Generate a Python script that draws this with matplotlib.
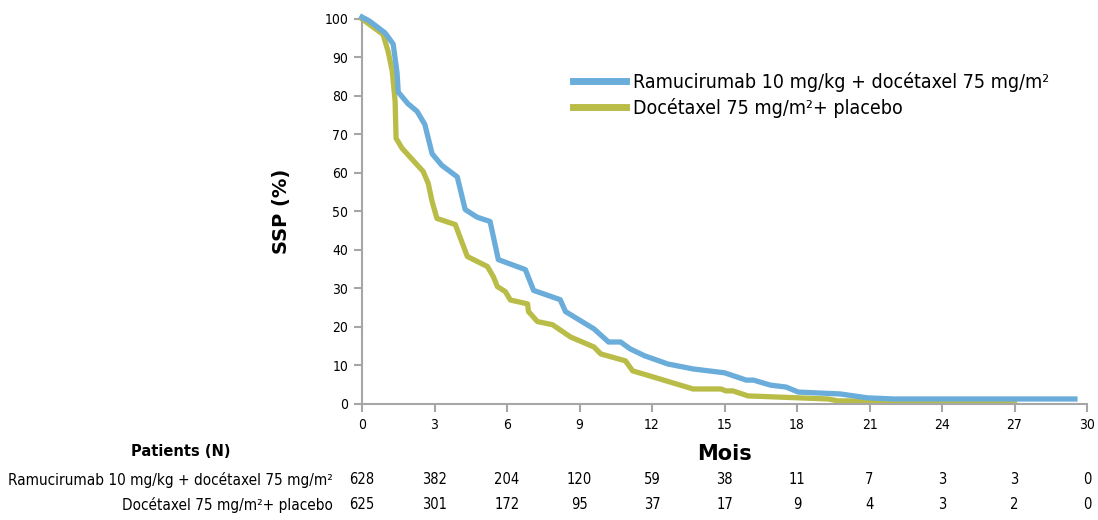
import numpy as np
import matplotlib
matplotlib.use("Agg")
import matplotlib.pyplot as plt
from matplotlib import transforms

# DejaVu Sans Condensed for most text, plain DejaVu Sans for the bold titles
plt.rcParams['font.family'] = ['DejaVu Sans']
plt.rcParams['font.stretch'] = 'condensed'

ram_t = [0, 0.3, 0.95, 1.29, 1.45, 1.5, 1.9, 2.28, 2.6, 2.9, 3.3, 3.94, 4.27, 4.77,
         5.3, 5.64, 6.76, 7.1, 8.2, 8.42, 9.6, 10.2, 10.7, 11.1, 11.7, 12.65, 13.7,
         15.0, 15.9, 16.2, 16.9, 17.55, 18.05, 19.8, 20.9, 22.0, 29.5]
ram_v = [100.5, 99.5, 96.4, 93.5, 86, 81, 78, 76, 72.6, 65, 62, 59, 50.5, 48.5,
         47.4, 37.5, 34.9, 29.5, 27.1, 24, 19.5, 16.1, 16.1, 14.3, 12.5, 10.4, 9.1,
         8.1, 6.2, 6.2, 4.9, 4.4, 3.1, 2.6, 1.6, 1.3, 1.3]

pla_t = [0, 0.87, 1.08, 1.25, 1.37, 1.41, 1.66, 2.53, 2.74, 2.9, 3.1, 3.86, 4.36,
         5.19, 5.44, 5.6, 5.93, 6.14, 6.85, 6.89, 7.26, 7.88, 8.63, 9.6, 9.88, 10.9,
         11.2, 11.74, 13.7, 14.85, 15.06, 15.35, 15.97, 18.05, 19.3, 19.7, 27.0]
pla_v = [100, 96, 91.6, 86.5, 78.6, 69, 66.4, 60.4, 57.3, 52.6, 48.2, 46.6, 38.3,
         35.7, 33, 30.5, 29.2, 27, 26, 24, 21.4, 20.6, 17.4, 14.8, 13, 11.2,
         8.6, 7.6, 3.9, 3.9, 3.4, 3.4, 2.1, 1.6, 1.3, 0.8, 0.8]

months = list(range(0, 31, 3))
ram_n = [628, 382, 204, 120, 59, 38, 11, 7, 3, 3, 0]
pla_n = [625, 301, 172, 95, 37, 17, 9, 4, 3, 2, 0]

ram_label = "Ramucirumab 10 mg/kg + docétaxel 75 mg/m²"
pla_label = "Docétaxel 75 mg/m²+ placebo"

blue = "#6badda"
green = "#b9bd48"
grey = "#a6a6a6"

fig = plt.figure(figsize=(10.98, 5.2), dpi=100)
ax = fig.add_axes([0.3297, 0.2231, 0.6603, 0.7404])

ax.plot(pla_t, pla_v, color=green, lw=3.8, clip_on=False, label=pla_label, zorder=2)
ax.plot(ram_t, ram_v, color=blue, lw=3.8, clip_on=False, label=ram_label, zorder=3)

ax.set_xlim(0, 30)
ax.set_ylim(0, 100)
ax.set_xticks(months)
ax.set_yticks(range(0, 101, 10))
for s in ['top', 'right']:
    ax.spines[s].set_visible(False)
for s in ['left', 'bottom']:
    ax.spines[s].set_color(grey)
    ax.spines[s].set_linewidth(1.5)
ax.tick_params(axis='both', direction='out', length=6, width=1.5, color=grey,
               labelsize=10, pad=4)

ax.set_ylabel("SSP (%)", fontsize=14, fontweight='bold', labelpad=24,
              fontstretch='normal')
ax.set_xlabel("Mois", fontsize=15, fontweight='bold', labelpad=9,
              fontstretch='normal')

# handles in reverse order so the blue arm comes first
h, l = ax.get_legend_handles_labels()
leg = ax.legend(h[::-1], l[::-1], loc='upper left',
                bbox_to_anchor=(0.5219, 0.862), bbox_transform=fig.transFigure,
                frameon=False, fontsize=14, handlelength=2.7, handletextpad=0.36,
                labelspacing=0.3, borderpad=0, borderaxespad=0)
for line in leg.get_lines():
    line.set_linewidth(5)

# tableau des patients à risque
trans = ax.get_xaxis_transform()
label_trans = transforms.blended_transform_factory(fig.transFigure, ax.transAxes)
fig.text(0.165, 1 - 452 / 520, "Patients (N)", fontsize=10.5, fontweight='bold',
         ha='center', va='center', fontstretch='normal')
for y, lab, counts in [(-0.197, ram_label, ram_n), (-0.262, pla_label, pla_n)]:
    fig.text(0.3035, y, lab, fontsize=11, ha='right', va='center',
             transform=label_trans)
    for xv, n in zip(months, counts):
        ax.text(xv, y, str(n), transform=trans, fontsize=10.5,
                ha='center', va='center', clip_on=False)

fig.savefig("out.png", dpi=100)
